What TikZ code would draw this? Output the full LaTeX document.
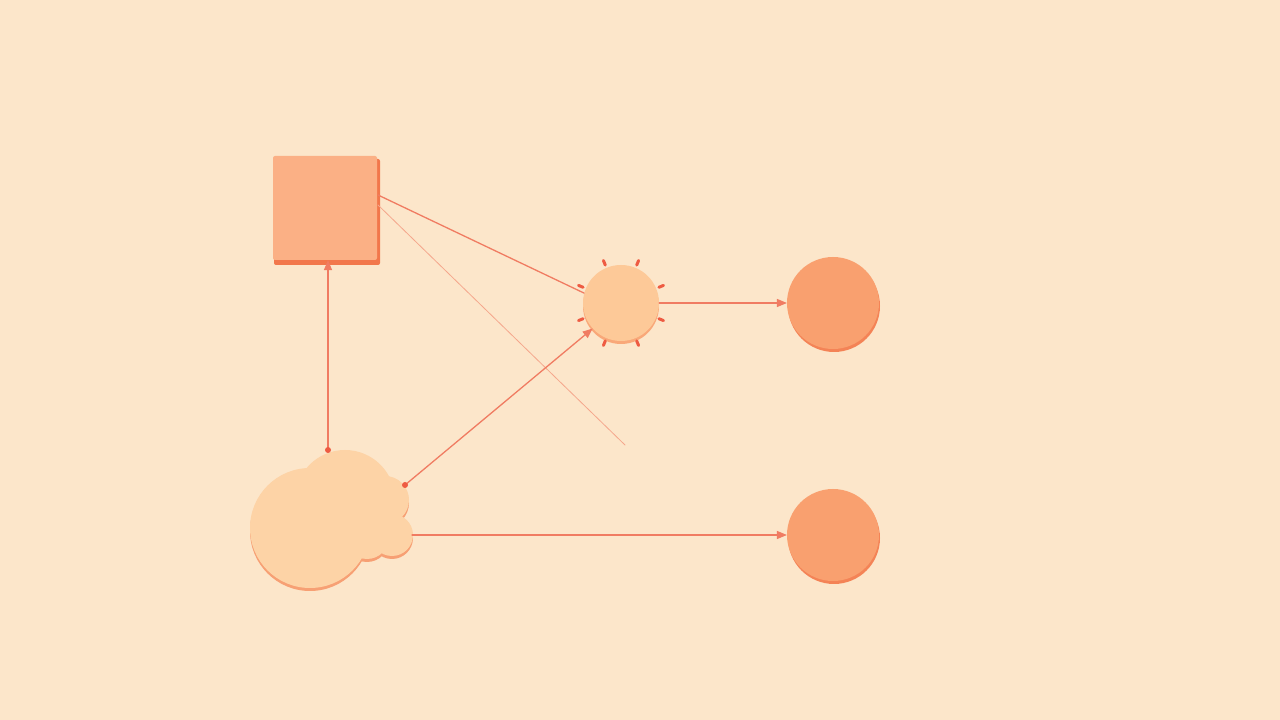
\documentclass[tikz,border=0pt]{standalone}
\usepackage{tikz}
\usetikzlibrary{arrows}
\usetikzlibrary{positioning}
\definecolor{bgpeach}{HTML}{FCE6CA}
\definecolor{boxfill}{HTML}{FBB085}
\definecolor{boxedge}{HTML}{F2774B}
\definecolor{sunfill}{HTML}{FDC998}
\definecolor{ballfill}{HTML}{F9A06F}
\definecolor{cloudfill}{HTML}{FDD3A6}
\definecolor{wire}{HTML}{F07C62}
\definecolor{dotred}{HTML}{EE5B42}
\begin{document}
\begin{tikzpicture}[line cap=round,line join=round,>=triangle 45,x=1pt,y=1pt,
  wirestyle/.style={color=wire,line width=1.3pt},
  faintwire/.style={color=wire!60!bgpeach,line width=0.8pt},
  boxnode/.style={rectangle,rounded corners=2pt,fill=boxfill,minimum size=104pt,inner sep=0pt},
  sunnode/.style={circle,fill=sunfill,minimum size=76pt,inner sep=0pt},
  ballnode/.style={circle,fill=ballfill,minimum size=92pt,inner sep=0pt},
  enddot/.style={circle,fill=dotred,minimum size=6pt,inner sep=0pt}]
\fill[bgpeach] (0,0) rectangle (1280,720);
\useasboundingbox (0,0) rectangle (1280,720);
% shadows and rims
\fill[boxedge,rounded corners=2pt] (274,455) rectangle (380,561);
\fill[boxedge!70!ballfill] (834,414) circle (46);
\fill[boxedge!70!ballfill] (834,182) circle (46);
\fill[sunfill!60!boxedge] (621,414) circle (38);
\foreach \a in {22.5,67.5,...,337.5}
\draw[color=dotred,line width=3pt] ([shift={(\a:41)}]621,417) -- ([shift={(\a:46)}]621,417);
\begin{scope}[color=boxedge!55!cloudfill,shift={(0,-3)}]
\fill (310,192) circle (60);
\fill (345,220) circle (50);
\fill (385,220) circle (24);
\fill (392,185) circle (21);
\fill (367,183) circle (22);
\end{scope}
% nodes
\node[boxnode] (box) at (325,512) {};
\node[sunnode] (sun) at (621,417) {};
\node[ballnode] (ballup) at (833,417) {};
\node[ballnode] (balldown) at (833,185) {};
\begin{scope}[color=cloudfill]
\fill (310,192) circle (60);
\fill (345,220) circle (50);
\fill (385,220) circle (24);
\fill (392,185) circle (21);
\fill (367,183) circle (22);
\end{scope}
\coordinate (cloudtop) at (328,270);
\coordinate (cloudside) at (405,235);
\coordinate (cloudright) at (412,185);
\coordinate (boxa) at (378,525);
\coordinate (boxb) at (378,515);
\coordinate (loose) at (625,275);
% connectors
\draw[->,wirestyle] (cloudtop) -- (cloudtop |- box.south);
\draw[wirestyle] (boxa) -- (sun.165);
\draw[faintwire] (boxb) -- (loose);
\draw[->,wirestyle] (cloudside) -- (sun.222);
\draw[->,wirestyle] (sun.east) -- (ballup.west);
\draw[->,wirestyle] (cloudright) -- (balldown.west);
\node[enddot] at (cloudtop) {};
\node[enddot] at (cloudside) {};
\end{tikzpicture}
\end{document}
